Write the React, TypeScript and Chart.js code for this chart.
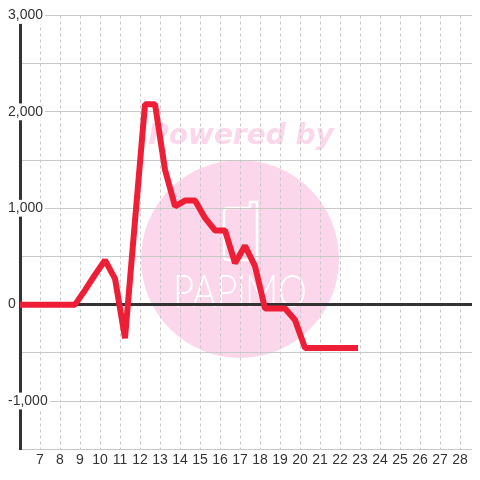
import { useEffect, useRef } from 'react';
import { Chart, registerables } from 'chart.js';

Chart.register(...registerables);

// Time of day (hours) for each sample
const hours = [
  5.75, 6.25, 6.75, 7.25, 7.75, 8.25, 8.75, 9.25, 9.75, 10.25, 10.75, 11.25,
  11.75, 12.25, 12.75, 13.25, 13.75, 14.25, 14.75, 15.25, 15.75, 16.25, 16.75,
  17.25, 17.75, 18.25, 18.75, 19.25, 19.75, 20.25, 20.75, 21.25, 21.75, 22.25, 22.75,
];

// Series values
const values = [
  0, 0, 0, 0, 0, 0, 0, 150, 310, 460, 270, -350,
  870, 2080, 2080, 1400, 1020, 1080, 1080, 900, 770, 770, 430,
  610, 400, -40, -40, -40, -160, -450, -450, -450, -450, -450, -450,
];

// Axis ranges
const xRange = [6, 29];
const xLabelRange = [7, 28];
const yRange = [-1500, 3000];
const yLabelStep = 1000;
const yGridStep = 500;

const watermarkPlugin = {
  id: 'watermark',
  beforeDraw(chart: any) {
    const ctx = chart.ctx as CanvasRenderingContext2D;
    ctx.save();
    const pink = 'rgb(252, 214, 234)';
    ctx.fillStyle = pink;
    ctx.beginPath();
    ctx.arc(232, 251, 99, 0, Math.PI * 2);
    ctx.fill();
    ctx.font = "bold italic 28px 'DejaVu Sans'";
    ctx.textAlign = 'center';
    ctx.textBaseline = 'alphabetic';
    ctx.fillText('Powered by', 233, 136, 186);
    ctx.strokeStyle = '#ffffff';
    ctx.lineWidth = 2.5;
    ctx.beginPath();
    ctx.moveTo(242, 200);
    ctx.lineTo(220, 200);
    ctx.quadraticCurveTo(216, 200, 216, 204);
    ctx.lineTo(216, 248);
    ctx.quadraticCurveTo(216, 252, 220, 252);
    ctx.lineTo(245, 252);
    ctx.quadraticCurveTo(249, 252, 249, 248);
    ctx.lineTo(249, 194);
    ctx.lineTo(242, 194);
    ctx.lineTo(242, 200);
    ctx.stroke();
    ctx.fillStyle = '#ffffff';
    ctx.font = "300 46px 'Lato'";
    ctx.fillText('PAPiMO', 232, 299, 134);
    ctx.restore();
  },
};

export default function App() {
  const ref = useRef<HTMLCanvasElement>(null);

  useEffect(() => {
    if (!ref.current) return;
    const points = hours.map((h, i) => ({ x: h, y: values[i] }));
    const chart = new Chart(ref.current, {
      type: 'line',
      data: {
        datasets: [
          {
            data: points,
            borderColor: 'rgb(238, 30, 54)',
            borderWidth: 6,
            borderJoinStyle: 'bevel',
            borderCapStyle: 'square',
            pointRadius: 0,
            pointHoverRadius: 0,
            tension: 0,
            fill: false,
          },
        ],
      },
      options: {
        animation: false,
        responsive: true,
        maintainAspectRatio: false,
        layout: { padding: { top: 7.5, bottom: 0, left: 12, right: 0 } },
        plugins: {
          legend: { display: false },
          tooltip: { enabled: false },
        },
        scales: {
          x: {
            type: 'linear',
            min: xRange[0],
            max: xRange[1],
            ticks: {
              stepSize: 1,
              autoSkip: false,
              maxRotation: 0,
              color: '#333',
              font: { family: "'Liberation Sans', Arial, sans-serif", size: 14 },
              padding: 3,
              callback: (v: any) =>
                v >= xLabelRange[0] && v <= xLabelRange[1] ? String(v) : null,
            },
            grid: {
              color: '#c8c8c8',
              lineWidth: 1,
              drawTicks: false,
            },
            border: { display: false, dash: [3, 3] },
          },
          y: {
            type: 'linear',
            min: yRange[0],
            max: yRange[1],
            afterFit: (scale: any) => {
              scale.width = 0;
            },
            ticks: {
              stepSize: yGridStep,
              autoSkip: false,
              mirror: true,
              crossAlign: 'near',
              padding: -12,
              color: '#333',
              font: { family: "'Liberation Sans', Arial, sans-serif", size: 14 },
              showLabelBackdrop: (c: any) =>
                !!c.tick && c.tick.value % yLabelStep === 0 && c.tick.value !== yRange[0],
              backdropColor: '#ffffff',
              backdropPadding: { left: 2, right: 2, top: 0, bottom: 0 },
              callback: (v: any) =>
                v % yLabelStep === 0 && v !== yRange[0] ? Number(v).toLocaleString('en-US') : '',
            },
            grid: {
              color: (c: any) => (c.tick && c.tick.value === 0 ? '#333333' : '#c8c8c8'),
              lineWidth: (c: any) => (c.tick && c.tick.value === 0 ? 3 : 1),
              drawTicks: false,
            },
            border: { display: true, color: '#333333', width: 3 },
          },
        },
      },
      plugins: [watermarkPlugin],
    });
    return () => chart.destroy();
  }, []);

  return (
    <div style={{ width: 472, height: 464, position: 'relative' }}>
      <canvas ref={ref} />
    </div>
  );
}
